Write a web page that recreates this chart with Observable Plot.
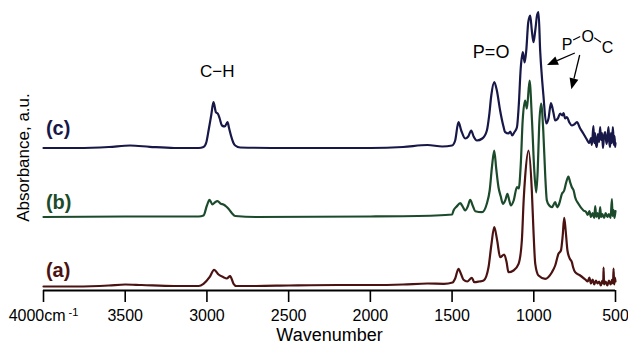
<!DOCTYPE html>
<html>
<head>
<meta charset="utf-8">
<script src="https://cdn.jsdelivr.net/npm/d3@7"></script>
<script src="https://cdn.jsdelivr.net/npm/@observablehq/plot@0.6"></script>
<style>
  html, body { margin: 0; padding: 0; background: #fff; }
  #chart { width: 628px; height: 349px; }
</style>
</head>
<body>
<div id="chart"></div>
<script>
// ---------- data ----------
const wavenumberTicks = [4000, 3500, 3000, 2500, 2000, 1500, 1000, 500];
const sampleLabels = ["(a)", "(b)", "(c)"];
const sampleColors = ["#4b1212", "#1c4b2c", "#171848"];
const offsets = [0.04, 0.735, 1.425];          // vertical stacking of spectra (a.u.)
const labelLevels = [0.2, 0.88, 1.62];          // level of the (a)/(b)/(c) tags (a.u.)

// [wavenumber cm-1, absorbance a.u. above own baseline]
const spectrumA = [
  [4000,0],[3800,0.0],[3600,0.01],[3500,0.02],[3400,0.015],[3200,0.005],[3050,0.005],
  [3021,0.027],[2984,0.093],[2956,0.167],[2929,0.12],[2899,0.093],[2879,0.08],[2858,0.103],
  [2837,0.027],[2821,0.005],[2700,0.005],[2500,0.01],[2200,0.015],[2000,0.015],[1800,0.02],
  [1650,0.03],[1550,0.027],[1497,0.04],[1481,0.08],[1461,0.177],[1444,0.12],[1430,0.067],
  [1407,0.05],[1379,0.087],[1364,0.043],[1334,0.05],[1307,0.06],[1277,0.193],[1260,0.41],
  [1242,0.593],[1224,0.46],[1206,0.293],[1181,0.32],[1166,0.24],[1155,0.143],[1124,0.16],
  [1093,0.227],[1073,0.46],[1062,0.86],[1053,1.093],[1032,1.36],[1012,0.96],[1002,0.56],
  [991,0.227],[971,0.11],[930,0.077],[889,0.143],[869,0.21],[849,0.327],[834,0.36],
  [823,0.51],[814,0.687],[805,0.56],[794,0.36],[780,0.28],[767,0.243],[759,0.19],
  [747,0.143],[716,0.11],[685,0.07],[670,0.05],[660,0.09],[650,0.03],[640,0.07],[630,0.02],
  [620,0.06],[610,0.03],[600,0.05],[590,0.01],[580,0.06],[575,0.03],[573,0.19],[570,0.02],
  [560,0.05],[550,0.01],[540,0.06],[530,0.02],[520,0.07],[515,0.03],[512,0.18],[508,0.02],
  [504,0.09],[500,0.05]
];
const spectrumB = [
  [4000,0],[3500,0.005],[3050,0.005],[3021,0.015],[3000,0.115],[2984,0.172],[2966,0.125],
  [2952,0.145],[2935,0.158],[2915,0.132],[2899,0.125],[2882,0.105],[2868,0.082],[2847,0.038],
  [2827,0.01],[2700,0],[2000,0.005],[1600,0.015],[1500,0.025],[1491,0.065],[1472,0.105],
  [1450,0.138],[1432,0.095],[1420,0.065],[1404,0.105],[1389,0.172],[1374,0.115],[1358,0.058],
  [1317,0.048],[1287,0.135],[1270,0.265],[1255,0.515],[1242,0.665],[1230,0.485],[1216,0.298],
  [1202,0.205],[1189,0.132],[1175,0.165],[1161,0.232],[1150,0.165],[1140,0.115],[1123,0.165],
  [1103,0.298],[1092,0.285],[1080,0.515],[1068,0.965],[1053,1.165],[1042,1.085],[1026,1.365],
  [1011,0.965],[997,0.465],[985,0.245],[976,0.465],[967,0.915],[955,1.135],[942,0.865],
  [930,0.415],[920,0.165],[905,0.115],[889,0.098],[869,0.148],[857,0.098],[844,0.135],
  [828,0.232],[814,0.265],[802,0.345],[788,0.405],[777,0.345],[767,0.298],[756,0.265],
  [747,0.198],[727,0.132],[696,0.065],[680,0.05],[670,0.02],[660,0.06],[650,0.0],[640,0.04],
  [630,-0.01],[624,0.11],[618,0.0],[610,0.04],[600,-0.015],[594,0.1],[588,0.0],[580,0.03],
  [570,-0.01],[560,0.04],[550,0.0],[540,0.03],[530,-0.01],[522,0.18],[518,0.01],[512,0.07],
  [506,-0.01],[500,0.06]
];
const spectrumC = [
  [4000,0],[3800,0],[3600,0.01],[3470,0.025],[3350,0.012],[3200,0],[3050,0],[3021,0.01],
  [3004,0.055],[2990,0.175],[2974,0.325],[2960,0.458],[2945,0.358],[2933,0.342],[2922,0.295],
  [2908,0.225],[2891,0.215],[2874,0.258],[2864,0.195],[2853,0.125],[2839,0.055],[2827,0.025],
  [2796,0.005],[2500,0],[2000,0],[1800,0.01],[1650,0.03],[1560,0.015],[1500,0.025],
  [1481,0.075],[1461,0.258],[1444,0.175],[1420,0.095],[1401,0.115],[1383,0.175],[1368,0.115],
  [1348,0.075],[1315,0.095],[1287,0.175],[1273,0.325],[1260,0.525],[1242,0.658],[1226,0.575],
  [1206,0.375],[1187,0.225],[1175,0.158],[1155,0.145],[1144,0.165],[1132,0.125],[1120,0.155],
  [1103,0.208],[1092,0.425],[1080,0.795],[1067,0.958],[1056,0.855],[1046,0.975],[1034,1.255],
  [1022,1.325],[1012,1.175],[1002,1.058],[991,1.175],[979,1.335],[971,1.358],[961,0.975],
  [951,0.725],[941,0.525],[924,0.245],[910,0.295],[895,0.448],[880,0.355],[869,0.275],
  [853,0.295],[838,0.345],[826,0.325],[818,0.348],[808,0.295],[797,0.308],[782,0.255],
  [767,0.225],[753,0.235],[736,0.258],[716,0.195],[696,0.142],[679,0.095],[665,0.058],
  [660,0.05],[650,0.1],[645,0.03],[640,0.12],[635,0.22],[630,0.05],[625,0.15],[620,0.04],
  [614,0.01],[608,0.14],[600,0.06],[594,0.21],[588,0.08],[582,0.15],[577,0.0],[570,0.12],
  [563,0.16],[555,0.04],[549,0.1],[543,0.21],[538,0.06],[533,0.01],[528,0.15],[522,0.05],
  [516,0.21],[510,0.03],[506,0.12],[502,0.01],[500,0.05]
];
const spectra = [spectrumA, spectrumB, spectrumC];

// band annotations: [text, wavenumber, absorbance level]
const bandLabels = [["C\u2212H", 2937, 2.19], ["P=O", 1261, 2.38]];
const pocAtoms = [["P", 796, 2.46], ["O", 670, 2.54], ["C", 548, 2.425]];
const pocBonds = [[759, 2.505, 716, 2.54], [630, 2.527, 589, 2.483]];
const pocArrows = [[746, 2.37, 916, 2.25], [716, 2.35, 767, 2.007]];

// ---------- chart ----------
const FONT = "'Liberation Sans', Arial, Helvetica, sans-serif";
const marks = [];
spectra.forEach((s, i) => {
  marks.push(Plot.line(s, {
    x: d => d[0], y: d => d[1] + offsets[i],
    stroke: sampleColors[i], strokeWidth: 2.2, curve: "monotone-x"
  }));
});
marks.push(Plot.text(sampleLabels, {
  x: 3985, y: (d, i) => labelLevels[i], text: d => d,
  fill: (d, i) => sampleColors[i], fontWeight: "bold", fontSize: 20,
  textAnchor: "start"
}));
marks.push(Plot.ruleY([0], {stroke: "black", strokeWidth: 2}));
marks.push(Plot.axisX({
  ticks: wavenumberTicks, tickSize: 12, tickPadding: 7, fontSize: 16,
  strokeWidth: 1.6, label: null,
  tickFormat: d => d === 4000 ? "4000cm" : String(d)
}));
marks.push(Plot.text(["Wavenumber"], {
  frameAnchor: "bottom", dy: 50, text: d => d, fontSize: 18
}));
marks.push(Plot.text(["Absorbance, a.u."], {
  frameAnchor: "left", dx: -20, dy: 7, rotate: -90, textAnchor: "middle",
  text: d => d, fontSize: 17
}));
marks.push(Plot.text(bandLabels, {
  x: d => d[1], y: d => d[2], text: d => d[0], fontSize: (d, i) => i === 1 ? 18 : 17
}));
marks.push(Plot.text(pocAtoms, {
  x: d => d[1], y: d => d[2], text: d => d[0], fontSize: 16
}));
marks.push(Plot.link(pocBonds, {
  x1: d => d[0], y1: d => d[1], x2: d => d[2], y2: d => d[3],
  stroke: "black", strokeWidth: 1.1
}));

const chart = Plot.plot({
  width: 628, height: 349,
  marginLeft: 43, marginRight: 13, marginTop: 10, marginBottom: 59,
  style: {fontFamily: FONT, background: "white", color: "black", overflow: "visible"},
  x: {domain: [4000, 500]},
  y: {domain: [0, 2.8], axis: null},
  marks
});
document.getElementById("chart").appendChild(chart);

// superscript "-1" on the 4000 tick label
const svg = d3.select(chart);
svg.selectAll("text").filter(function() { return this.textContent === "4000cm"; })
  .each(function() {
    d3.select(this).append("tspan").attr("dy", "-0.45em").attr("font-size", 11).text(" -1");
  });

// filled-head arrows for the P-O-C annotation, placed through the plot scales
const sx = chart.scale("x"), sy = chart.scale("y");
const g = svg.append("g").attr("fill", "black").attr("stroke", "black");
pocArrows.forEach(([w0, v0, w1, v1]) => {
  const x0 = sx.apply(w0), y0 = sy.apply(v0), x1 = sx.apply(w1), y1 = sy.apply(v1);
  const dx = x1 - x0, dy = y1 - y0, L = Math.hypot(dx, dy);
  const ux = dx / L, uy = dy / L, hl = 11, hw = 4.5;
  const bx = x1 - ux * hl, by = y1 - uy * hl;
  g.append("line").attr("x1", x0).attr("y1", y0).attr("x2", bx).attr("y2", by)
    .attr("stroke-width", 1.3);
  g.append("polygon").attr("stroke", "none").attr("points", [
    [x1, y1], [bx - uy * hw, by + ux * hw], [bx + uy * hw, by - ux * hw]
  ].map(p => p.join(",")).join(" "));
});
</script>
</body>
</html>
